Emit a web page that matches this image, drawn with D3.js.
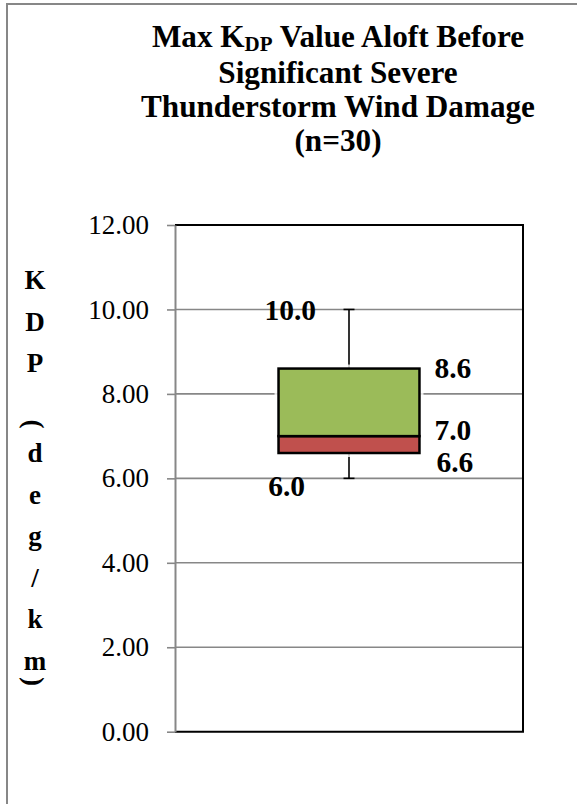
<!DOCTYPE html>
<html>
<head>
<meta charset="utf-8">
<script src="https://cdn.jsdelivr.net/npm/d3@7"></script>
<style>
  html, body { margin: 0; padding: 0; background: #fff; }
  svg { display: block; }
  text { font-family: "Liberation Serif", "Times New Roman", serif; }
</style>
</head>
<body>
<svg id="chart" width="577" height="804"></svg>
<script>
// ---- data ----
const categories = ["KDP"];
const minValues = [6.0];
const q1Values = [6.6];
const medianValues = [7.0];
const q3Values = [8.6];
const maxValues = [10.0];
const yTicks = [0, 2, 4, 6, 8, 10, 12];
const titleLines = ["Max K|DP| Value Aloft Before", "Significant Severe", "Thunderstorm Wind Damage", "(n=30)"];
const yLabel = "KDP (deg/km)";

// ---- layout ----
const plot = { left: 175, top: 225, right: 523, bottom: 731.7 };
const svg = d3.select("#chart");

// chart area border (extends past the window on right/bottom)
svg.append("rect").attr("x", 7).attr("y", 4).attr("width", 700).attr("height", 900)
  .attr("fill", "#fff").attr("stroke", "#878787").attr("stroke-width", 2);

const y = d3.scaleLinear().domain([0, 12]).range([plot.bottom, plot.top]);
const x = d3.scaleBand().domain(categories).range([plot.left, plot.right]).padding(0);

// gridlines
svg.append("g").selectAll("line").data(yTicks.filter(t => t > 0 && t < 12)).join("line")
  .attr("x1", plot.left).attr("x2", plot.right)
  .attr("y1", d => y(d)).attr("y2", d => y(d))
  .attr("stroke", "#878787").attr("stroke-width", 1.6);

// plot border (top/right/bottom black)
svg.append("path")
  .attr("d", `M${plot.left},${plot.top}H${plot.right}V${plot.bottom}H${plot.left}`)
  .attr("fill", "none").attr("stroke", "#000").attr("stroke-width", 2);

// y axis
const yAxis = d3.axisLeft(y).tickValues(yTicks).tickFormat(d3.format(".2f")).tickSize(8).tickSizeOuter(0);
const ax = svg.append("g").attr("transform", `translate(${plot.left},0)`).call(yAxis);
ax.select(".domain").attr("stroke", "#878787").attr("stroke-width", 2);
ax.selectAll(".tick line").attr("stroke", "#878787").attr("stroke-width", 1.6);
ax.selectAll(".tick text")
  .attr("x", -26)
  .attr("font-family", "Liberation Serif, serif")
  .attr("font-size", 27).attr("fill", "#000");

// box plot
const boxFrac = 0.405;
const capW = 11;
const fmt = d3.format(".1f");
categories.forEach((c, i) => {
  const cx = x(c) + x.bandwidth() / 2;
  const bw = x.bandwidth() * boxFrac;
  const g = svg.append("g");
  // whiskers
  g.append("line").attr("x1", cx).attr("x2", cx).attr("y1", y(q3Values[i])).attr("y2", y(maxValues[i]))
    .attr("stroke", "#000").attr("stroke-width", 1.6);
  g.append("line").attr("x1", cx).attr("x2", cx).attr("y1", y(q1Values[i])).attr("y2", y(minValues[i]))
    .attr("stroke", "#000").attr("stroke-width", 1.6);
  g.append("line").attr("x1", cx - capW / 2).attr("x2", cx + capW / 2).attr("y1", y(maxValues[i])).attr("y2", y(maxValues[i]))
    .attr("stroke", "#000").attr("stroke-width", 1.6);
  g.append("line").attr("x1", cx - capW / 2).attr("x2", cx + capW / 2).attr("y1", y(minValues[i])).attr("y2", y(minValues[i]))
    .attr("stroke", "#000").attr("stroke-width", 1.6);
  // white halo
  g.append("rect").attr("x", cx - bw / 2 - 4).attr("y", y(q3Values[i]) - 4)
    .attr("width", bw + 8).attr("height", y(q1Values[i]) - y(q3Values[i]) + 8)
    .attr("fill", "#fff").attr("opacity", 0.8);
  // lower (red) box: q1 -> median
  g.append("rect").attr("x", cx - bw / 2).attr("y", y(medianValues[i]))
    .attr("width", bw).attr("height", y(q1Values[i]) - y(medianValues[i]))
    .attr("fill", "#C0504D").attr("stroke", "#000").attr("stroke-width", 2.5);
  // upper (green) box: median -> q3
  g.append("rect").attr("x", cx - bw / 2).attr("y", y(q3Values[i]))
    .attr("width", bw).attr("height", y(medianValues[i]) - y(q3Values[i]))
    .attr("fill", "#9BBB59").attr("stroke", "#000").attr("stroke-width", 2.5);

  // labels
  const lab = (v, xx, dy, anchor) => svg.append("text")
    .attr("x", xx).attr("y", y(v) + dy)
    .attr("text-anchor", anchor)
    .attr("font-size", 29.5).attr("font-weight", "bold").attr("fill", "#000")
    .text(fmt(v));
  lab(maxValues[i], cx - 33, 11, "end");
  lab(q3Values[i], cx + bw / 2 + 15, 9, "start");
  lab(medianValues[i], cx + bw / 2 + 15, 3.5, "start");
  lab(q1Values[i], cx + bw / 2 + 17, 19, "start");
  lab(minValues[i], cx - 44, 18, "end");
});

// title
const titleBaselines = [47, 82.5, 116.5, 150.5];
const title = svg.append("text").attr("text-anchor", "middle")
  .attr("font-size", 31.2).attr("font-weight", "bold").attr("fill", "#000");
titleLines.forEach((ln, i) => {
  const t = title.append("tspan").attr("x", 338).attr("y", titleBaselines[i]);
  const parts = ln.split("|");
  let pendingDy = 0;
  parts.forEach((p, j) => {
    if (j % 2 === 1) {
      t.append("tspan").attr("font-size", 21).attr("dy", 3.5).text(p);
      pendingDy = -3.5;
    } else {
      const s = t.append("tspan").text(p);
      if (pendingDy) { s.attr("dy", pendingDy); pendingDy = 0; }
    }
  });
});

// vertical stacked y-axis label (parentheses rotated, as in stacked text)
const chars = Array.from(yLabel);
let yy = 289;
const lx = 35;
const step = 41.5;
const parenCx = 31;
const fs = 27;
const lg = svg.append("g").attr("font-size", fs).attr("font-weight", "bold").attr("fill", "#000");
chars.forEach((ch) => {
  if (ch === " ") { yy += 7; return; }
  if (ch === "(" || ch === ")") {
    const cy = ch === "(" ? yy + 3.5 : yy - step + 12;
    // glyph ink spans ~ -0.69em..0.22em vertically; after rotate(90) that becomes horizontal
    const tx = parenCx - 0.235 * fs;
    lg.append("text").attr("x", -0.167 * fs).attr("y", 0)
      .attr("transform", `translate(${tx},${cy}) rotate(90)`)
      .text(ch);
    if (ch === "(") yy += step;
    return;
  }
  lg.append("text").attr("x", lx).attr("y", yy).attr("text-anchor", "middle").text(ch);
  yy += step;
});
</script>
</body>
</html>
